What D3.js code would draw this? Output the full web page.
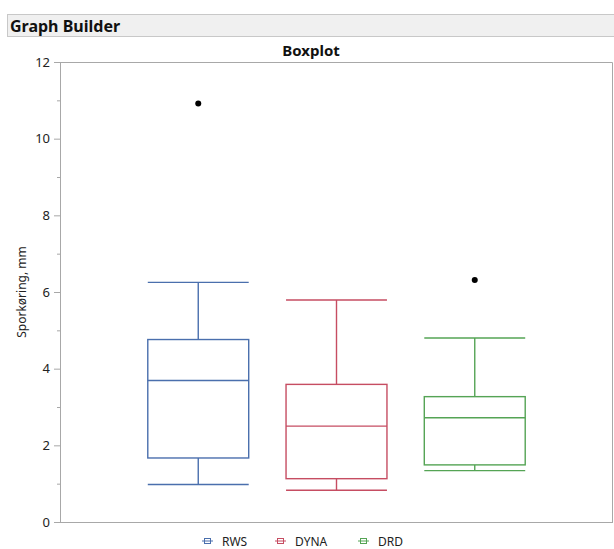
<!DOCTYPE html>
<html>
<head>
<meta charset="utf-8">
<script src="https://cdn.jsdelivr.net/npm/d3@7"></script>
<style>
  body { margin: 0; background: #fff; }
  text { font-family: "Noto Sans", "Open Sans", sans-serif; }
</style>
</head>
<body>
<div id="chart"></div>
<script>
// values
var categories = ["RWS", "DYNA", "DRD"];
var whiskerLow = [0.98, 0.83, 1.34];
var q1 = [1.67, 1.13, 1.49];
var median = [3.69, 2.50, 2.72];
var q3 = [4.76, 3.59, 3.27];
var whiskerHigh = [6.25, 5.79, 4.80];
var outliers = [{cat: "RWS", v: 10.92}, {cat: "DRD", v: 6.31}];
var yTicks = [0, 2, 4, 6, 8, 10, 12];
var colors = ["#4a6fad", "#c64d62", "#55a455"];

var W = 614, H = 549;
var margin = {top: 62, right: 1, bottom: 27, left: 60}
    , width = W - margin.left - margin.right
    , height = H - margin.top - margin.bottom;

var svg = d3.select("#chart").append("svg")
    .attr("width", W)
    .attr("height", H);

// header bar
svg.append("rect")
    .attr("x", 7.5).attr("y", 14.5)
    .attr("width", W - 7).attr("height", 22)
    .attr("fill", "#f0f0f0")
    .attr("stroke", "#c8c8c8");
svg.append("text")
    .attr("x", 10).attr("y", 31.5)
    .attr("font-size", 16).attr("font-weight", "bold")
    .attr("fill", "#111")
    .text("Graph Builder");

// title (centred on the whole graph frame)
svg.append("text")
    .attr("x", 311).attr("y", 56)
    .attr("text-anchor", "middle")
    .attr("font-size", 15).attr("font-weight", "bold")
    .attr("fill", "#111")
    .text("Boxplot");

var g = svg.append("g")
    .attr("transform", "translate(" + margin.left + "," + margin.top + ")");

var xScale = d3.scalePoint()
    .domain(categories)
    .range([0, width])
    .padding(1);

var yScale = d3.scaleLinear()
    .domain([0, 12])
    .range([height, 0]);

var colorScale = d3.scaleOrdinal().domain(categories).range(colors);

// frame top / right
g.append("path")
    .attr("d", "M0,0.5H" + (width - 0.5) + "V" + height)
    .attr("fill", "none")
    .attr("stroke", "#a8a8a8");

// y axis (major)
var yAxis = g.append("g")
    .attr("class", "y axis")
    .call(d3.axisLeft(yScale).tickValues(yTicks).tickSize(6).tickPadding(4));
// minor ticks
g.append("g")
    .call(d3.axisLeft(yScale).tickValues([1, 3, 5, 7, 9, 11]).tickSize(3).tickFormat(""))
    .select(".domain").remove();
g.selectAll(".domain, .tick line").attr("stroke", "#a8a8a8");
yAxis.selectAll("text").attr("font-size", 13).attr("fill", "#222");

// x axis line
g.append("line")
    .attr("x1", 0).attr("x2", width)
    .attr("y1", height + 0.5).attr("y2", height + 0.5)
    .attr("stroke", "#a8a8a8");

// y label
g.append("text")
    .attr("transform", "translate(" + (-34) + "," + (height / 2) + ") rotate(-90)")
    .attr("text-anchor", "middle")
    .attr("font-size", 12).attr("fill", "#222")
    .text("Sporkøring, mm");

var boxW = xScale.step() * 0.73;

categories.forEach(function(c, i) {
    var cx = xScale(c);
    var col = colorScale(c);
    var bg = g.append("g").attr("stroke", col).attr("stroke-width", 1.4).attr("fill", "none");
    // whiskers
    bg.append("line").attr("x1", cx).attr("x2", cx)
        .attr("y1", yScale(q3[i])).attr("y2", yScale(whiskerHigh[i]));
    bg.append("line").attr("x1", cx).attr("x2", cx)
        .attr("y1", yScale(q1[i])).attr("y2", yScale(whiskerLow[i]));
    // caps
    [whiskerLow[i], whiskerHigh[i]].forEach(function(v) {
        bg.append("line").attr("x1", cx - boxW / 2).attr("x2", cx + boxW / 2)
            .attr("y1", yScale(v)).attr("y2", yScale(v));
    });
    // box
    bg.append("rect")
        .attr("x", cx - boxW / 2).attr("width", boxW)
        .attr("y", yScale(q3[i])).attr("height", yScale(q1[i]) - yScale(q3[i]));
    // median
    bg.append("line").attr("x1", cx - boxW / 2).attr("x2", cx + boxW / 2)
        .attr("y1", yScale(median[i])).attr("y2", yScale(median[i]));
});

g.selectAll("circle.outlier")
    .data(outliers)
    .enter().append("circle")
    .attr("class", "outlier")
    .attr("cx", function(d) { return xScale(d.cat); })
    .attr("cy", function(d) { return yScale(d.v); })
    .attr("r", 3)
    .attr("fill", "#000");

// legend
var legendX = [202, 275, 358];
var legend = svg.append("g").attr("transform", "translate(0," + 542 + ")");
categories.forEach(function(c, i) {
    var lg = legend.append("g").attr("transform", "translate(" + legendX[i] + ",0)");
    var col = colorScale(c);
    lg.append("rect").attr("x", 2.5).attr("y", -3.5).attr("width", 6).attr("height", 5)
        .attr("fill", "none").attr("stroke", col);
    lg.append("line").attr("x1", 0).attr("x2", 11).attr("y1", -1).attr("y2", -1)
        .attr("stroke", col);
    lg.append("text").attr("x", 20).attr("y", 4)
        .attr("font-size", 12).attr("fill", "#222")
        .text(c);
});
</script>
</body>
</html>
